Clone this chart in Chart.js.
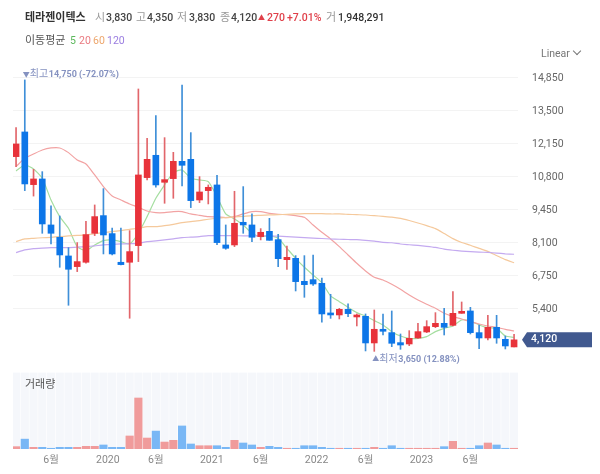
<!DOCTYPE html>
<html>
<head>
<meta charset="utf-8">
<script src="https://cdn.jsdelivr.net/npm/chart.js@4"></script>
<style>
html, body { margin: 0; padding: 0; background: #fff; }
#wrap { position: relative; width: 600px; height: 474px; overflow: hidden; font-family: Roboto, "Noto Sans CJK KR", sans-serif; font-size: 10.5px; }
#wrap canvas { position: absolute; left: 0; top: 0; }
#wrap span { position: absolute; white-space: nowrap; line-height: 14px; z-index: 2; }
.g { color: #999; font-size: 11px; }
.b { color: #444; font-weight: 500; }
.r { color: #e0404a; font-weight: 500; }
</style>
</head>
<body>
<div id="wrap">
<canvas id="chart" width="600" height="474"></canvas>
<span class="b" style="left:25px;top:11px;color:#333;font-weight:700;font-size:11px">테라젠이텍스</span>
<span class="g" style="left:95px;top:11px">시</span><span class="b" style="left:106px;top:11px">3,830</span>
<span class="g" style="left:136px;top:11px">고</span><span class="b" style="left:147px;top:11px">4,350</span>
<span class="g" style="left:177px;top:11px">저</span><span class="b" style="left:189px;top:11px">3,830</span>
<span class="g" style="left:220px;top:11px">종</span><span class="b" style="left:231px;top:11px">4,120</span>
<span class="r" style="left:258px;top:11px;font-size:7px">▲</span><span class="r" style="left:267px;top:11px">270</span>
<span class="r" style="left:287px;top:11px">+7.01%</span>
<span class="g" style="left:326px;top:11px">거</span><span class="b" style="left:338px;top:11px;color:#333">1,948,291</span>
<span style="left:25px;top:34px;color:#555;font-size:11px">이동평균</span>
<span style="left:70px;top:34px;color:#5cb85c">5</span>
<span style="left:79px;top:34px;color:#ea7a80">20</span>
<span style="left:93px;top:34px;color:#eda66c">60</span>
<span style="left:107px;top:34px;color:#9a7de0">120</span>
<span style="left:541px;top:47px;color:#777;font-size:10.5px">Linear</span>
<span style="left:574px;top:48px;width:5px;height:5px;border-right:1px solid #777;border-bottom:1px solid #777;transform:rotate(45deg)"></span>
<span style="left:25px;top:378px;color:#555;font-size:11px">거래량</span>
</div>
<script>
// monthly candles, 2019-02 .. 2023-11
var months = []
for (var m = 0; m < 58; m++) months.push(m)

var opens = [11613,12622,10468,10700,8819,8315,7551,7115,7293,8478,9201,8465,7293,7293,7974,10755,11668,10564,10714,11422,11504,9841,10223,10455,8001,8001,8928,8819,8342,8559,8218,7400,7455,6514,6582,6433,5220,5138,5369,5056,5083,3993,4552,4415,4006,3951,4197,4442,4660,4796,4714,5205,5301,4415,4197,4633,4142,3830]
var closes = [12131,10496,10700,8860,8478,7592,7006,7320,8424,9160,8410,7633,7197,7729,10864,11504,10455,10673,11422,11259,9814,10168,10359,8097,7865,8887,8819,8315,8519,8191,7441,7496,6501,6378,6405,5179,5138,5369,5192,5138,3993,4552,4470,3979,3910,4183,4456,4660,4796,4633,5205,5287,4415,4197,4633,4197,3870,4120]
var highs = [12799,14750,11095,10999,9596,9187,7892,8097,8969,9637,10305,8696,8696,8587,14380,12363,13290,12390,11790,14544,12595,10795,10455,10850,8819,10196,10387,9269,8669,9090,8436,7959,7564,7564,7591,6651,5983,5410,5588,5179,5179,5342,5179,5301,4360,4496,4796,4905,5233,5410,6091,5669,5451,4728,5123,5123,4278,4350]
var lows = [11204,10223,10000,8478,8042,7088,5534,6911,7252,8383,7633,7592,7184,5003,7320,10659,10360,9705,9909,10414,9528,9732,9678,8015,7824,7933,8478,8138,8206,8191,7114,7005,6119,5860,6351,4838,4999,4974,5070,4688,3666,3650,4320,3842,3733,3883,4183,4415,4619,4319,4687,5205,4360,3761,4115,3979,3747,3830]

var ma5 = [11027,11272,11109,10727,9841,9160,8683,7933,7770,8001,8179,8206,8138,8042,8478,9160,9909,10455,10959,11068,10727,10659,10591,9978,9269,9064,8819,8478,8342,8383,8273,7864,7455,7087,6773,6460,5915,5683,5451,5233,5097,4906,4729,4456,4278,4183,4183,4251,4456,4592,4687,4933,4892,4728,4619,4592,4278,4224]
var ma20 = [11204,11545,11722,11886,11968,11968,11777,11477,11313,10864,10387,10005,9841,9678,9541,9391,9323,9323,9364,9364,9269,9214,9160,9146,9119,9160,9269,9364,9364,9295,9254,9240,9200,9131,8818,8518,8245,7932,7591,7250,6937,6678,6569,6391,6187,5955,5750,5573,5410,5205,5069,4973,4865,4769,4687,4633,4551,4483]
var ma60 = [8138,8247,8274,8295,8315,8342,8369,8390,8410,8460,8506,8546,8587,8640,8683,8751,8751,8792,8846,8915,8955,8996,9051,9092,9119,9146,9173,9201,9214,9228,9240,9254,9268,9281,9281,9281,9268,9268,9254,9240,9227,9200,9170,9140,9090,9000,8900,8790,8670,8470,8260,8100,7990,7860,7740,7570,7400,7275]
var ma120 = [7688,7797,7851,7875,7892,7892,7892,7910,7933,7965,8001,8025,8042,8055,8069,8138,8170,8206,8250,8301,8320,8340,8383,8383,8383,8378,8375,8372,8370,8368,8360,8341,8320,8300,8280,8265,8245,8235,8225,8215,8190,8160,8110,8090,8040,8010,7980,7945,7900,7830,7785,7750,7725,7710,7695,7670,7640,7620]

var volumes = [6.4,27,4.5,4.5,2,4.5,4.5,4.5,7.3,7.3,11,4.5,4.5,35.6,139.5,30,49,19,23.7,63,13.7,9,9,9,4.5,23.7,16.4,11,4.5,7.3,4.5,2,2,9,9,4.5,2,2,2,2,2,4.5,2,9,2,2,2,2,2,6.4,21,2,2,9,16.4,11,2,2]

var priceTicks = [14850,13500,12150,10800,9450,8100,6750,5400]
var volumeTicks = [46.5,93,140]
var volumeTickLabels = ['46.5m','93.0m','140m']
var xTicks = [4,10.5,16,22.4,28,34.4,40,46.4,52]
var xTickLabels = ['6월','2020','6월','2021','6월','2022','6월','2023','6월']

var volumeTop = 208
var UP = '#e8333b', DOWN = '#0d76e8'
var UP_WICK = '#e2666b', DOWN_WICK = '#3f8fd8'
var UP_VOL = '#f09b9b', DOWN_VOL = '#79b7f5'
var FONT = 'Roboto, "Noto Sans CJK KR"'

function isUp(i) { return closes[i] >= opens[i] }
var candleColors = months.map(function(i) { return isUp(i) ? UP : DOWN })
var wickColors = months.map(function(i) { return isUp(i) ? UP_WICK : DOWN_WICK })
var volumeColors = months.map(function(i) { return isUp(i) ? UP_VOL : DOWN_VOL })

function lineSet(label, data, color) {
    return {
        type: 'line', label: label, yAxisID: 'y', order: 3,
        data: months.map(function(i) { return { x: i, y: data[i] } }),
        borderColor: color, borderWidth: 1.2, pointRadius: 0, tension: 0.2, fill: false
    }
}

// price labels and the last-price tag follow the price scale
var labelsPlugin = {
    id: 'priceLabels',
    afterDraw: function(chart) {
        var c = chart.ctx, xs = chart.scales.x, ys = chart.scales.y
        c.save()
        c.textBaseline = 'middle'
        c.textAlign = 'left'
        c.fillStyle = '#8592c0'

        // high
        var hx = xs.getPixelForValue(1), hy = ys.getPixelForValue(highs[1]) - 5
        c.font = '7px ' + FONT
        c.fillText('▼', hx - 2, hy)
        c.font = '10px ' + FONT
        c.fillText('최고', hx + 5, hy)
        c.font = '700 9px ' + FONT
        c.fillText('14,750 (-72.07%)', hx + 24, hy)

        // low
        var lx = xs.getPixelForValue(41), ly = ys.getPixelForValue(lows[41]) + 8
        c.font = '7px ' + FONT
        c.fillText('▲', lx - 2, ly)
        c.font = '10px ' + FONT
        c.fillText('최저', lx + 5, ly)
        c.font = '700 9px ' + FONT
        c.fillText('3,650 (12.88%)', lx + 24, ly)

        // last price tag
        var ty = ys.getPixelForValue(closes[57])
        c.fillStyle = '#41598f'
        c.beginPath()
        c.moveTo(522, ty)
        c.lineTo(527, ty - 7.5)
        c.lineTo(592, ty - 7.5)
        c.lineTo(592, ty + 7.5)
        c.lineTo(527, ty + 7.5)
        c.closePath()
        c.fill()
        c.fillStyle = '#fff'
        c.font = '500 10.5px ' + FONT
        c.fillText('4,120', 531, ty)
        c.restore()
    }
}

new Chart(document.getElementById('chart').getContext('2d'), {
    data: {
        datasets: [
            {
                type: 'bar', label: 'stripes', yAxisID: 'vol', order: 6,
                data: months.map(function(i) { return { x: i, y: volumeTop } }),
                backgroundColor: '#f5f7fb', barThickness: 7.5
            },
            {
                type: 'bar', label: '거래량', yAxisID: 'vol', order: 5,
                data: months.map(function(i) { return { x: i, y: volumes[i] } }),
                backgroundColor: volumeColors, barThickness: 7.5
            },
            lineSet('120', ma120, '#c4aaf0'),
            lineSet('60', ma60, '#f5c99c'),
            lineSet('20', ma20, '#f2a3a3'),
            lineSet('5', ma5, '#a5dea0'),
            {
                type: 'bar', label: 'wick', yAxisID: 'y', order: 2,
                data: months.map(function(i) { return { x: i, y: [lows[i], highs[i]] } }),
                backgroundColor: wickColors, barThickness: 1
            },
            {
                type: 'bar', label: 'body', yAxisID: 'y', order: 1,
                data: months.map(function(i) { return { x: i, y: [opens[i], closes[i]] } }),
                backgroundColor: candleColors, barThickness: 6
            }
        ]
    },
    options: {
        responsive: false,
        animation: false,
        devicePixelRatio: 1,
        grouped: false,
        layout: { padding: { left: 13, top: 68, right: 0, bottom: 0 } },
        plugins: { legend: { display: false }, tooltip: { enabled: false } },
        scales: {
            x: {
                type: 'linear', min: -0.35, max: 57.45, offset: false,
                afterBuildTicks: function(s) { s.ticks = xTicks.map(function(v) { return { value: v } }) },
                afterFit: function(s) { s.height = 25 },
                grid: { display: false, drawTicks: false }, border: { display: false },
                ticks: {
                    autoSkip: false, maxRotation: 0, padding: 5, color: '#888',
                    font: { family: FONT, size: 10.5 },
                    callback: function(v) { return xTickLabels[xTicks.indexOf(v)] }
                }
            },
            y: {
                position: 'right', min: -344, max: 15238,
                afterBuildTicks: function(s) { s.ticks = priceTicks.map(function(v) { return { value: v } }) },
                afterFit: function(s) { s.width = 82 },
                grid: { color: '#f3f3f3', drawTicks: false }, border: { display: false },
                ticks: {
                    padding: 14, color: '#666', labelOffset: 1,
                    font: { family: FONT, size: 10.5 },
                    callback: function(v) { return v.toLocaleString('en-US') }
                }
            },
            vol: {
                position: 'right', min: 0, max: 1042, weight: -1,
                afterBuildTicks: function(s) { s.ticks = volumeTicks.map(function(v) { return { value: v } }) },
                afterFit: function(s) { s.width = 0 },
                grid: { display: false, drawTicks: false }, border: { display: false },
                ticks: {
                    padding: 13, color: '#666', labelOffset: 1,
                    font: { family: FONT, size: 10.5 },
                    callback: function(v) { return volumeTickLabels[volumeTicks.indexOf(v)] }
                }
            }
        }
    },
    plugins: [labelsPlugin]
})
</script>
</body>
</html>
